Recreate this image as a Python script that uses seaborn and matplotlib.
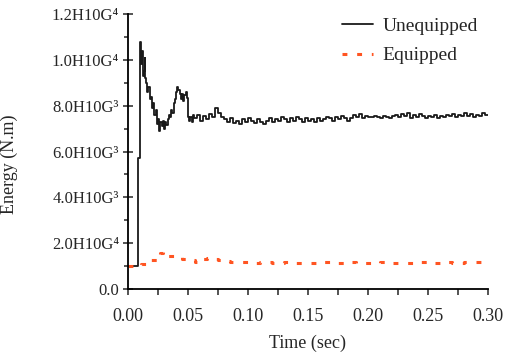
import matplotlib

matplotlib.use("Agg")

import matplotlib.pyplot as plt
import pandas as pd
import seaborn as sns
from matplotlib.ticker import MultipleLocator

# Unequipped: start-up spike, then noisy plateau
UNEQ_TIME = [
    0.0000, 0.0085, 0.0100, 0.0108, 0.0115, 0.0122, 0.0130, 0.0138, 0.0145, 0.0152,
    0.0160, 0.0170, 0.0180, 0.0190, 0.0200, 0.0210, 0.0220, 0.0230, 0.0240, 0.0250,
    0.0260, 0.0270, 0.0280, 0.0290, 0.0300, 0.0310, 0.0320, 0.0330, 0.0340, 0.0350,
    0.0360, 0.0370, 0.0380, 0.0390, 0.0400, 0.0410, 0.0420, 0.0430, 0.0440, 0.0450,
    0.0460, 0.0470, 0.0480, 0.0490, 0.0500, 0.0510, 0.0520, 0.0530, 0.0540,
    0.0550, 0.0575, 0.0600, 0.0625, 0.0650, 0.0675, 0.0700, 0.0725, 0.0750, 0.0775,
    0.0800, 0.0825, 0.0850, 0.0875, 0.0900, 0.0925, 0.0950, 0.0975, 0.1000, 0.1025,
    0.1050, 0.1075, 0.1100, 0.1125, 0.1150, 0.1175, 0.1200, 0.1225, 0.1250, 0.1275,
    0.1300, 0.1325, 0.1350, 0.1375, 0.1400, 0.1425, 0.1450, 0.1475, 0.1500, 0.1525,
    0.1550, 0.1575, 0.1600, 0.1625, 0.1650, 0.1675, 0.1700, 0.1725, 0.1750, 0.1775,
    0.1800, 0.1825, 0.1850, 0.1875, 0.1900, 0.1925, 0.1950, 0.1975, 0.2000, 0.2025,
    0.2050, 0.2075, 0.2100, 0.2125, 0.2150, 0.2175, 0.2200, 0.2225, 0.2250, 0.2275,
    0.2300, 0.2325, 0.2350, 0.2375, 0.2400, 0.2425, 0.2450, 0.2475, 0.2500, 0.2525,
    0.2550, 0.2575, 0.2600, 0.2625, 0.2650, 0.2675, 0.2700, 0.2725, 0.2750, 0.2775,
    0.2800, 0.2825, 0.2850, 0.2875, 0.2900, 0.2925, 0.2950, 0.2975, 0.3000,
]
UNEQ_ENERGY = [
    1000, 5700, 10800, 9800, 10400, 9300, 9500, 10100, 9200, 9000,
    8600, 8800, 8300, 8400, 7900, 8100, 7600, 7800, 7200, 7400,
    6900, 7300, 7100, 7350, 7000, 7300, 7150, 7400, 7600, 7500,
    7800, 7700, 8100, 8300, 8600, 8800, 8700, 8500, 8300, 8500,
    8200, 8450, 8600, 8350, 7500, 7350, 7500, 7300, 7600,
    7450, 7600, 7350, 7550, 7400, 7650, 7500, 7900, 7700, 7500,
    7400, 7300, 7450, 7250, 7350, 7200, 7400, 7300, 7450, 7350,
    7250, 7400, 7300, 7200, 7350, 7450, 7300, 7400, 7350, 7500,
    7400, 7300, 7450, 7350, 7500, 7400, 7300, 7450, 7350, 7400,
    7300, 7450, 7350, 7400, 7500, 7450, 7350, 7500, 7400, 7550,
    7450, 7350, 7450, 7600, 7500, 7650, 7450, 7550, 7500, 7500,
    7550, 7500, 7450, 7550, 7500, 7450, 7550, 7600, 7500, 7650,
    7550, 7700, 7450, 7600, 7500, 7650, 7550, 7450, 7550, 7500,
    7600, 7450, 7550, 7500, 7600, 7550, 7650, 7500, 7600, 7550,
    7700, 7550, 7650, 7500, 7600, 7550, 7700, 7600, 7600,
]

# Equipped: small bump then flat
EQ_TIME = [
    0.0000, 0.0110, 0.0160, 0.0190, 0.0240, 0.0270, 0.0290, 0.0310, 0.0330, 0.0360,
    0.0400, 0.0450, 0.0480, 0.0520, 0.0560, 0.0620, 0.0660, 0.0700, 0.0750, 0.0800,
    0.0850, 0.0900, 0.0950, 0.1000, 0.1100, 0.1200, 0.1300, 0.1400, 0.1500, 0.1600,
    0.1700, 0.1800, 0.1900, 0.2000, 0.2100, 0.2200, 0.2300, 0.2400, 0.2500, 0.2600,
    0.2700, 0.2800, 0.2950,
]
EQ_ENERGY = [
    1000, 1100, 1100, 1250, 1300, 1550, 1600, 1500, 1450, 1430,
    1400, 1300, 1250, 1280, 1200, 1300, 1350, 1300, 1280, 1230,
    1200, 1180, 1170, 1150, 1160, 1140, 1170, 1150, 1130, 1160,
    1140, 1170, 1150, 1130, 1160, 1140, 1150, 1170, 1140, 1160,
    1150, 1170, 1160,
]

Y_TICKS = [0, 2000, 4000, 6000, 8000, 10000, 12000]
Y_TICK_LABELS = ["0.0", "2.0H10G\u2074", "4.0H10G\u00b3", "6.0H10G\u00b3",
                 "8.0H10G\u00b3", "1.0H10G\u2074", "1.2H10G\u2074"]
X_TICKS = [0.00, 0.05, 0.10, 0.15, 0.20, 0.25, 0.30]

sns.set_style("ticks")
plt.rcParams["font.family"] = ["Liberation Serif", "DejaVu Serif"]
plt.rcParams["font.size"] = 13

uneq = pd.DataFrame({"Time": UNEQ_TIME, "Energy": UNEQ_ENERGY})
eq = pd.DataFrame({"Time": EQ_TIME, "Energy": EQ_ENERGY})

fig = plt.figure(figsize=(5.05, 3.53), dpi=100)
ax = fig.add_axes([0.2535, 0.1813, 0.7128, 0.779])

sns.lineplot(data=uneq, x="Time", y="Energy", ax=ax, color="#1a1a1a",
             linewidth=1.3, drawstyle="steps-post", estimator=None, label="Unequipped")
sns.lineplot(data=eq, x="Time", y="Energy", ax=ax, color="#ff5522",
             linewidth=2.2, drawstyle="steps-post", estimator=None, label="Equipped",
             dashes=False)
ax.lines[1].set_dashes((1.6, 3.2))

ax.set_xlim(0, 0.30)
ax.set_ylim(0, 12000)
ax.set_xticks(X_TICKS)
ax.set_xticklabels([f"{v:.2f}" for v in X_TICKS])
ax.set_yticks(Y_TICKS)
ax.set_yticklabels(Y_TICK_LABELS)
ax.xaxis.set_minor_locator(MultipleLocator(0.025))
ax.yaxis.set_minor_locator(MultipleLocator(1000))
ax.tick_params(axis="y", which="major", direction="inout", length=7, width=1.1, labelsize=12, pad=3)
ax.tick_params(axis="y", which="minor", direction="out", length=3, width=1.1)
ax.tick_params(axis="x", which="both", direction="out", length=4, width=1.1, labelsize=13, pad=10)
for side in ["left", "bottom"]:
    ax.spines[side].set_linewidth(1.3)
    ax.spines[side].set_color("black")
sns.despine(ax=ax)

ax.set_xlabel("Time (sec)", fontsize=13, labelpad=7)
ax.set_ylabel("Energy (N.m)", fontsize=13)
ax.yaxis.set_label_coords(-0.305, 0.455)

ax.legend(loc="upper left", bbox_to_anchor=(0.642, 1.0), bbox_transform=fig.transFigure,
          frameon=False, fontsize=14, handlelength=1.6, handletextpad=0.5, labelspacing=0.6)

fig.savefig("out.png", dpi=100)
